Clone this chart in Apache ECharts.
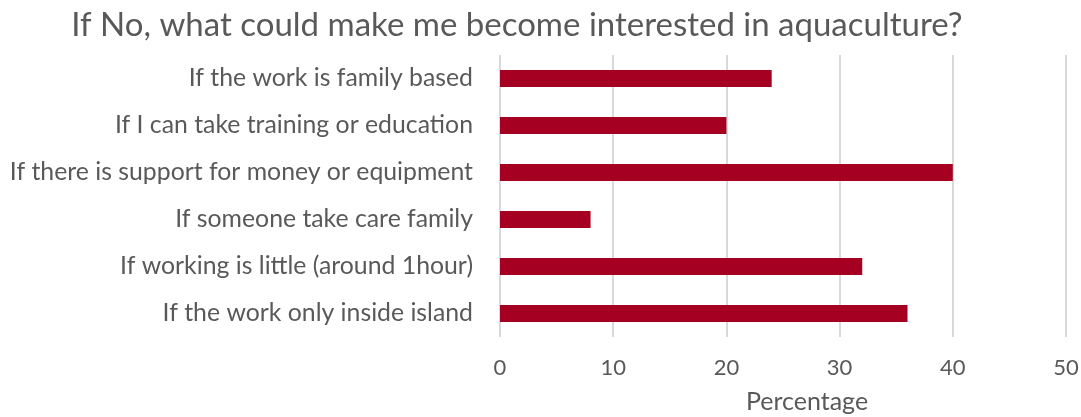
<!DOCTYPE html>
<html>
<head>
<meta charset="utf-8">
<script src="https://cdn.jsdelivr.net/npm/echarts@6/dist/echarts.min.js"></script>
<style>
  html, body { margin: 0; padding: 0; background: #fff; }
  #chart { width: 1081px; height: 417px; }
</style>
</head>
<body>
<div id="chart"></div>
<script>
// Reasons listed top to bottom
const categories = [
  'If the work is family based',
  'If I can take training or education',
  'If there is support for money or equipment',
  'If someone take care family',
  'If working is little (around 1hour)',
  'If the work only inside island'
];
// Share of respondents (%)
const percentages = [24, 20, 40, 8, 32, 36];
const xTicks = { min: 0, max: 50, interval: 10 };

const FONT = 'Lato';
const chart = echarts.init(document.getElementById('chart'), null, { renderer: 'canvas' });
chart.setOption({
  backgroundColor: '#ffffff',
  animation: false,
  title: {
    text: 'If No, what could make me become interested in aquaculture?',
    left: 512,
    textAlign: 'center',
    top: 4,
    textStyle: { fontFamily: FONT, fontSize: 33, fontWeight: 'normal', color: '#595959' }
  },
  grid: { left: 500, right: 15, top: 55, bottom: 80, containLabel: false, outerBoundsMode: 'none' },
  xAxis: {
    type: 'value',
    min: xTicks.min,
    max: xTicks.max,
    interval: xTicks.interval,
    name: 'Percentage',
    nameLocation: 'middle',
    nameGap: 52,
    nameTextStyle: { fontFamily: FONT, fontSize: 25, color: '#595959', padding: [0, 0, 0, 48] },
    axisLine: { show: false },
    axisTick: { show: false },
    axisLabel: { fontFamily: FONT, fontSize: 22, color: '#595959', margin: 20 },
    splitLine: { show: true, lineStyle: { color: '#d9d9d9', width: 2 } }
  },
  yAxis: {
    type: 'category',
    inverse: true,
    data: categories,
    axisLine: { show: false },
    axisTick: { show: false },
    axisLabel: { fontFamily: FONT, fontSize: 24.8, color: '#595959', margin: 27 }
  },
  series: [{
    type: 'bar',
    data: percentages,
    barWidth: 17,
    itemStyle: { color: '#A50021' }
  }]
});
</script>
</body>
</html>
